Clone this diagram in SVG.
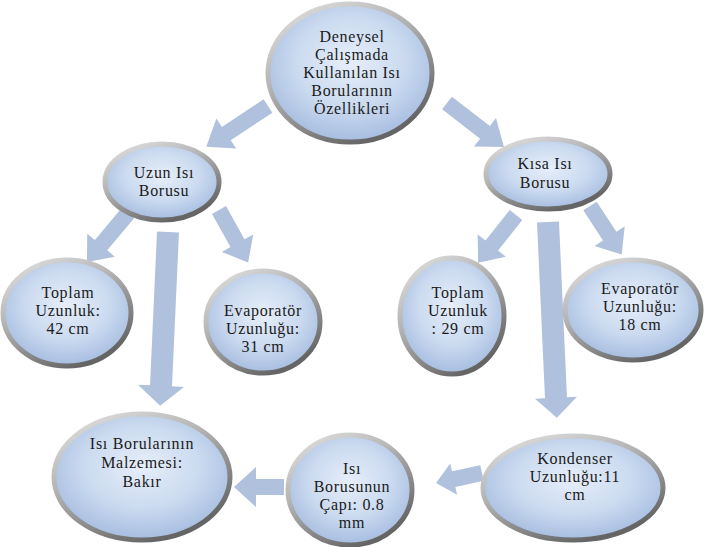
<svg xmlns="http://www.w3.org/2000/svg" width="706" height="547" viewBox="0 0 706 547">
<defs>
  <radialGradient id="fillG" cx="50%" cy="42%" r="58%">
    <stop offset="0" stop-color="#e6eef9"/>
    <stop offset="0.55" stop-color="#ccdbf0"/>
    <stop offset="1" stop-color="#a6bde0"/>
  </radialGradient>
  <linearGradient id="rimG" x1="0" y1="0" x2="0.6" y2="1">
    <stop offset="0" stop-color="#e4e4e4"/>
    <stop offset="0.45" stop-color="#b4b4b4"/>
    <stop offset="1" stop-color="#656565"/>
  </linearGradient>
  <style>
    .node ellipse { fill: url(#fillG); stroke: url(#rimG); stroke-width: 5; }
    .node text { font-family: 'Liberation Serif', 'Times New Roman', 'DejaVu Serif', serif; font-size: 16px; letter-spacing: 0.7px; fill: #1a1a1a; text-anchor: middle; }
    .arrow { fill: #afc1dc; }
  </style>
</defs>
<rect width="706" height="547" fill="#ffffff"/>
<g id="connectors">
  <path class="arrow" transform="translate(268,106) rotate(146.5)" d="M0,-8 H50 V-18 L74,0 L50,18 V8 H0 Z"/>
  <path class="arrow" transform="translate(447,103) rotate(37.7)" d="M0,-8 H48 V-18 L72,0 L48,18 V8 H0 Z"/>
  <path class="arrow" transform="translate(128,213) rotate(129.9)" d="M0,-8 H42 V-18 L64,0 L42,18 V8 H0 Z"/>
  <path class="arrow" transform="translate(219,210) rotate(60.9)" d="M0,-8 H38 V-18 L60,0 L38,18 V8 H0 Z"/>
  <path class="arrow" transform="translate(168,232) rotate(92.6)" d="M0,-11 H154 V-23 L174,0 L154,23 V11 H0 Z"/>
  <path class="arrow" transform="translate(516,215) rotate(128.4)" d="M0,-8 H39 V-18 L61,0 L39,18 V8 H0 Z"/>
  <path class="arrow" transform="translate(590,206) rotate(56.9)" d="M0,-8 H36 V-18 L58,0 L36,18 V8 H0 Z"/>
  <path class="arrow" transform="translate(548,222) rotate(87.4)" d="M0,-11 H176 V-21 L196,0 L176,21 V11 H0 Z"/>
  <path class="arrow" transform="translate(482,473) rotate(167.7)" d="M0,-8 H29 V-16 L47,0 L29,16 V8 H0 Z"/>
  <path class="arrow" transform="translate(284,487) rotate(180)" d="M0,-8 H28 V-20 L50,0 L28,20 V8 H0 Z"/>
</g>
<g id="n1" class="node">
  <ellipse cx="350" cy="73" rx="82" ry="69"/>
  <text x="352" y="42">Deneysel<tspan x="352" dy="18">Çalışmada</tspan><tspan x="352" dy="18">Kullanılan Isı</tspan><tspan x="352" dy="18">Borularının</tspan><tspan x="352" dy="18">Özellikleri</tspan></text>
</g>
<g id="n2" class="node">
  <ellipse cx="162" cy="182" rx="57" ry="38"/>
  <text x="164" y="178">Uzun Isı<tspan x="164" dy="18">Borusu</tspan></text>
</g>
<g id="n3" class="node">
  <ellipse cx="548" cy="174" rx="62" ry="35"/>
  <text x="545" y="169">Kısa Isı<tspan x="545" dy="19">Borusu</tspan></text>
</g>
<g id="n4" class="node">
  <ellipse cx="67" cy="313" rx="64" ry="53"/>
  <text x="68" y="298">Toplam<tspan x="68" dy="18">Uzunluk:</tspan><tspan x="68" dy="18">42 cm</tspan></text>
</g>
<g id="n5" class="node">
  <ellipse cx="263" cy="322" rx="57" ry="51"/>
  <text x="263" y="316">Evaporatör<tspan x="263" dy="18">Uzunluğu:</tspan><tspan x="263" dy="18">31 cm</tspan></text>
</g>
<g id="n6" class="node">
  <ellipse cx="452" cy="316" rx="52" ry="58"/>
  <text x="458" y="298">Toplam<tspan x="458" dy="18">Uzunluk</tspan><tspan x="458" dy="18">: 29 cm</tspan></text>
</g>
<g id="n7" class="node">
  <ellipse cx="633" cy="310" rx="68" ry="50"/>
  <text x="640" y="294">Evaporatör<tspan x="640" dy="18">Uzunluğu:</tspan><tspan x="640" dy="18">18 cm</tspan></text>
</g>
<g id="n8" class="node">
  <ellipse cx="142" cy="477" rx="88" ry="63"/>
  <text x="142" y="449">Isı Borularının<tspan x="142" dy="19">Malzemesi:</tspan><tspan x="142" dy="19">Bakır</tspan></text>
</g>
<g id="n9" class="node">
  <ellipse cx="350" cy="490" rx="62" ry="55"/>
  <text x="352" y="474">Isı<tspan x="352" dy="18">Borusunun</tspan><tspan x="352" dy="18">Çapı: 0.8</tspan><tspan x="352" dy="18">mm</tspan></text>
</g>
<g id="n10" class="node">
  <ellipse cx="573" cy="488" rx="90" ry="52"/>
  <text x="575" y="464">Kondenser<tspan x="575" dy="18">Uzunluğu:11</tspan><tspan x="575" dy="18">cm</tspan></text>
</g>
</svg>
